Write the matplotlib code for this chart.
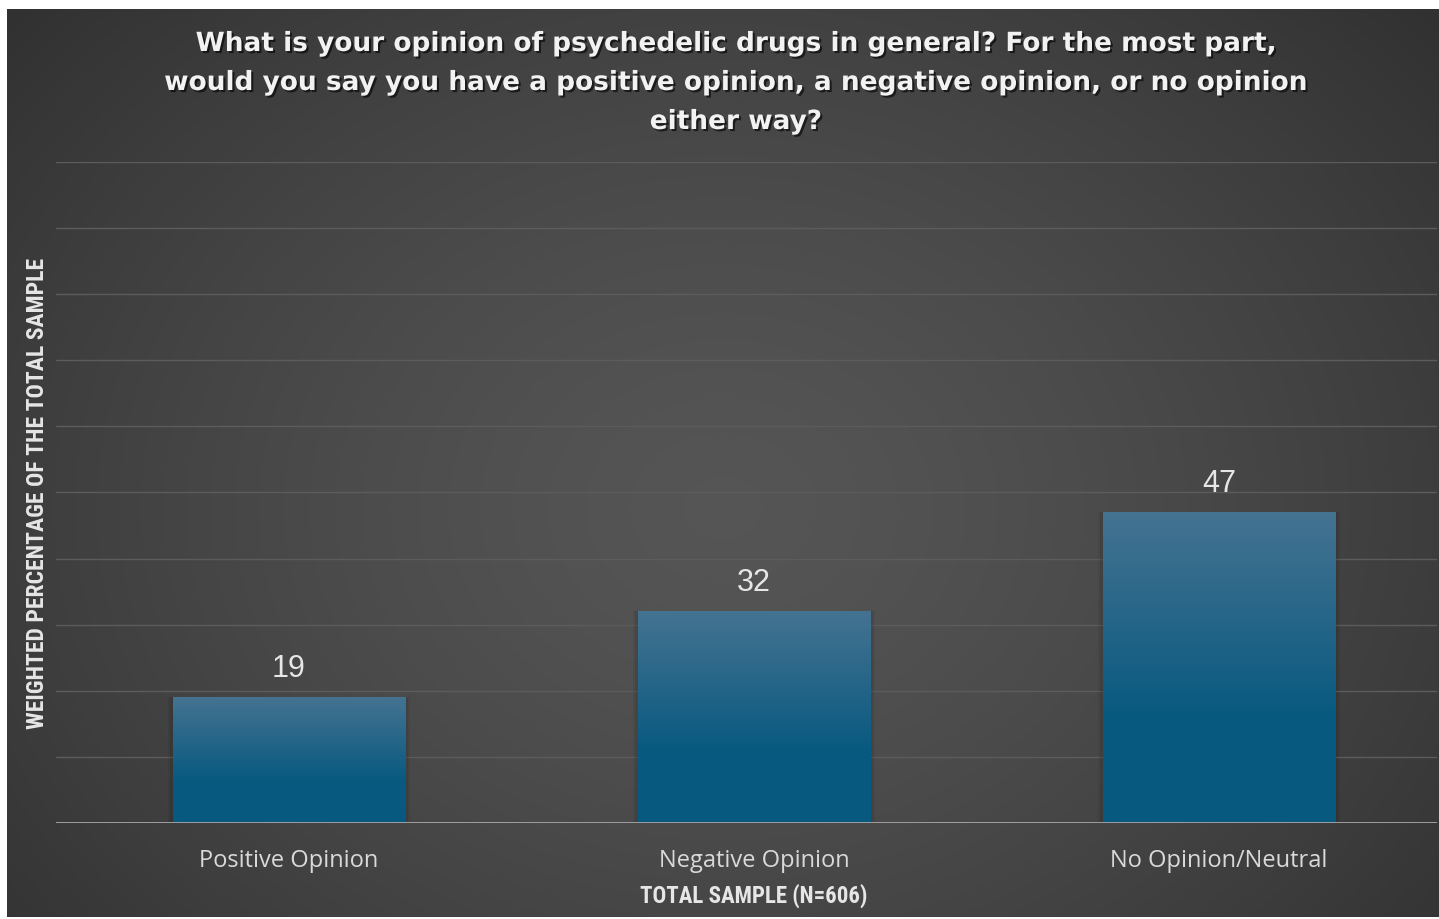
import numpy as np
import matplotlib
matplotlib.use("Agg")
import matplotlib.pyplot as plt
from matplotlib import patheffects as pe
from matplotlib.patches import Rectangle

categories = ["Positive Opinion", "Negative Opinion", "No Opinion/Neutral"]
values = [19, 32, 47]

title = ("What is your opinion of psychedelic drugs in general? For the most part,\n"
         "would you say you have a positive opinion, a negative opinion, or no opinion\n"
         "either way?")
ylabel = "WEIGHTED PERCENTAGE OF THE TOTAL SAMPLE"
xlabel = "TOTAL SAMPLE (N=606)"

W, H = 1439, 919
fig = plt.figure(figsize=(W / 100, H / 100), dpi=100)
fig.patch.set_facecolor("white")

# radial gray background panel
bg = fig.add_axes([7 / W, 2 / H, (W - 7) / W, (H - 11) / H])
yy, xx = np.mgrid[0:1:300j, 0:1:450j]
r = np.sqrt(((xx - 0.5) / 0.75) ** 2 + ((yy - 0.55) / 0.95) ** 2)
shade = np.clip(0.335 - 0.17 * r ** 1.4, 0.17, 0.34)
bg.imshow(np.dstack([shade] * 3), aspect="auto", extent=(0, 1, 0, 1), interpolation="bilinear")
bg.axis("off")

ax = fig.add_axes([56 / W, (H - 823) / H, (1437 - 56) / W, (823 - 162) / H])
ax.patch.set_alpha(0)
x = np.arange(len(categories))
bw = 0.5

for yv in range(10, 101, 10):
    ax.axhline(yv, color="#5c5c5c", lw=1.0, zorder=0)
ax.axhline(0, color="#a6a6a6", lw=1.3, zorder=4)

grad = np.linspace(0, 1, 256).reshape(-1, 1)
top = np.array([0.27, 0.45, 0.57])
bot = np.array([0.03, 0.35, 0.50])
col = bot + (top - bot) * np.clip(grad * 1.5 - 0.5, 0, 1)
col = col.reshape(256, 1, 3)

bars = ax.bar(x, values, width=bw, color="none", zorder=2)
for b, v in zip(bars, values):
    x0 = b.get_x()
    # soft shadow behind bar
    for k, a in [(0.010, 0.05), (0.005, 0.07)]:
        ax.add_patch(Rectangle((x0 - k, 0), bw + 2 * k, v + k * 10, color="black",
                               alpha=a, lw=0, zorder=1))
    im = ax.imshow(col, extent=(x0, x0 + bw, 0, v), aspect="auto", origin="lower",
                   zorder=2, interpolation="bilinear")
    im.set_clip_path(b)
    ax.text(b.get_x() + bw / 2, v + 2.0, str(v), ha="center", va="bottom",
            fontsize=22, color="#e6e6e6", family="Liberation Sans")

ax.set_xlim((56 - 289) / 465, (1437 - 289) / 465)
ax.set_ylim(0, 100)
ax.set_yticks([])
ax.set_xticks(x)
ax.set_xticklabels(categories, fontsize=17, color="#d9d9d9", family="Open Sans")
ax.tick_params(axis="x", length=0, pad=19)
for s in ax.spines.values():
    s.set_visible(False)

fig.text(736 / W, (H - 135) / H, title, ha="center", va="bottom", fontsize=19,
         fontweight="bold", color="#f2f2f2", family="DejaVu Sans", linespacing=1.65,
         path_effects=[pe.withSimplePatchShadow(offset=(1.5, -1.5), shadow_rgbFace="black", alpha=0.6)])

fig.text(38 / W, (H - 493) / H, ylabel, rotation=90, ha="center", va="center",
         fontsize=17, fontweight="bold", color="#e6e6e6",
         family=["Roboto Condensed", "Roboto"], fontstretch="condensed")
fig.text(754 / W, (H - 896) / H, xlabel, ha="center", va="center",
         fontsize=16.5, fontweight="bold", color="#e6e6e6",
         family=["Roboto Condensed", "Roboto"], fontstretch="condensed")

fig.savefig("out.png", dpi=100, facecolor=fig.get_facecolor())
